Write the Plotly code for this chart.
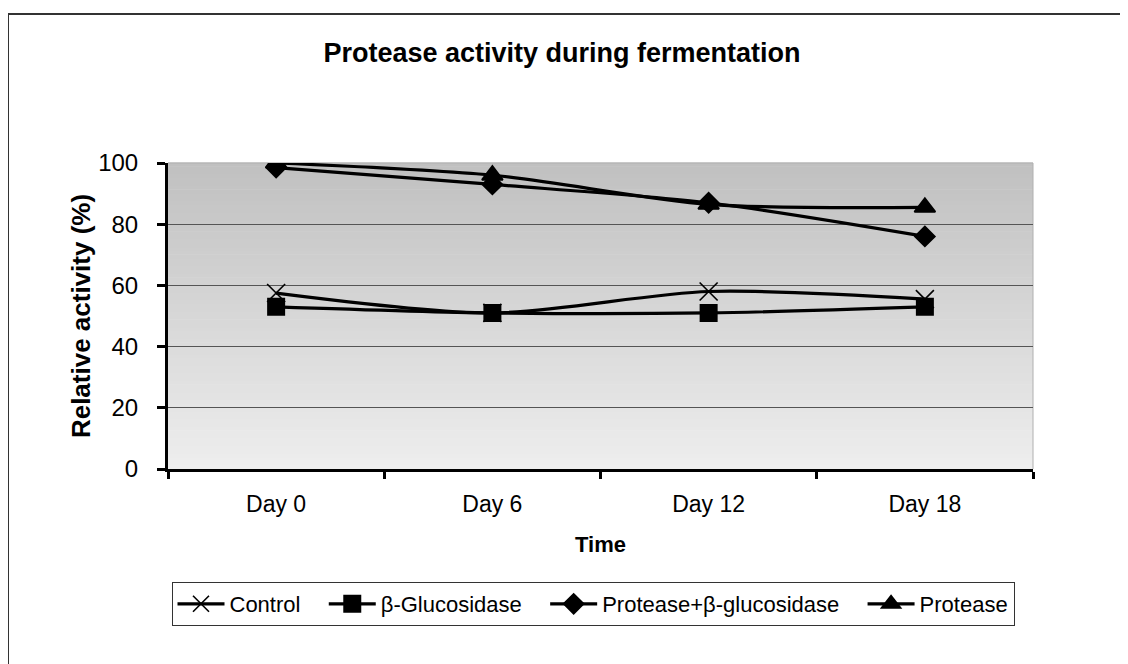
import plotly.graph_objects as go

categories = ["Day 0", "Day 6", "Day 12", "Day 18"]
control = [57.5, 51, 58, 55.5]
b_glucosidase = [53, 51, 51, 53]
protease_bglu = [98.5, 93, 87, 76]
protease = [100, 96, 86.5, 85.5]
y_ticks = [0, 20, 40, 60, 80, 100]
series_names = ["Control", "β-Glucosidase", "Protease+β-glucosidase", "Protease"]

styles = [
    ("x-thin-open", 18),
    ("square", 16),
    ("diamond", 15),
    ("triangle-up", 18),
]

OFF = 8
W, H = 1128 - OFF, 664 - OFF
L, R, T, B = 168 - OFF, 95, 163 - OFF, 195
pw, ph = W - L - R, H - T - B

fig = go.Figure()
for k, (name, vals) in enumerate(zip(series_names, [control, b_glucosidase, protease_bglu, protease])):
    sym, sz = styles[k]
    label = name + ("\u00a0" * 3 if k < 3 else "")
    fig.add_trace(go.Scatter(
        x=categories, y=vals, name=label, mode="lines+markers",
        line=dict(color="black", width=3.2, shape="spline", smoothing=0.8),
        marker=dict(symbol=sym, size=sz, color="black",
                    line=dict(color="black", width=2 if k else 1.6)),
    ))

shapes = []
n = 80
for i in range(n):
    t = i / n
    c = int(round(0xee + (0xc0 - 0xee) * (i + 0.5) / n))
    col = f"rgb({c},{c},{c})"
    shapes.append(dict(type="rect", xref="x domain", yref="y domain",
                       x0=0, x1=1, y0=t, y1=(i + 1) / n + 0.002,
                       fillcolor=col, line=dict(width=0), layer="below"))
shapes.append(dict(type="line", xref="x domain", yref="y domain",
                   x0=0, x1=1, y0=1, y1=1, line=dict(color="#b0b0b0", width=1), layer="below"))
shapes.append(dict(type="line", xref="x domain", yref="y domain",
                   x0=1, x1=1, y0=0, y1=1, line=dict(color="#b0b0b0", width=1), layer="below"))
px = lambda v: (v - OFF - L) / pw
py = lambda v: (H - B - (v - OFF)) / ph
shapes.append(dict(type="rect", xref="paper", yref="paper",
                   x0=px(8), x1=px(1140), y0=py(14), y1=py(680),
                   line=dict(color="#333333", width=2), fillcolor="rgba(0,0,0,0)"))

fig.update_layout(
    width=W, height=H,
    margin=dict(l=L, r=R, t=T, b=B, autoexpand=False),
    paper_bgcolor="white", plot_bgcolor="rgba(0,0,0,0)",
    font=dict(family="Liberation Sans, Arial, sans-serif", color="black"),
    title=dict(text="<b>Protease activity during fermentation</b>",
               x=px(562), xref="paper", xanchor="center",
               y=1 - (53 - OFF) / H, yanchor="middle",
               font=dict(size=27, color="black")),
    shapes=shapes,
    showlegend=True,
    legend=dict(orientation="h", x=px(593), xanchor="center", y=py(582), yanchor="top",
                bordercolor="#333333", borderwidth=1, bgcolor="white",
                font=dict(size=22), tracegroupgap=0, itemwidth=47),
    xaxis=dict(
        type="category", range=[-0.5, 3.5], showgrid=False,
        showline=True, linecolor="black", linewidth=3,
        ticks="outside", tickson="boundaries", ticklen=7, tickwidth=3, tickcolor="black",
        tickfont=dict(size=23), ticklabelstandoff=12,
        title=dict(text="<b>Time</b>", font=dict(size=22), standoff=22),
        zeroline=False,
    ),
    yaxis=dict(
        range=[0, 100], tickvals=y_ticks, showgrid=True, gridcolor="#555555", gridwidth=1,
        showline=True, linecolor="black", linewidth=3,
        ticks="outside", ticklen=8, tickwidth=3, tickcolor="black",
        tickfont=dict(size=24), ticklabelstandoff=14,
        title=dict(text="<b>Relative activity (%)</b>", font=dict(size=26), standoff=1),
        zeroline=False,
    ),
)

fig.write_html("out.html")
